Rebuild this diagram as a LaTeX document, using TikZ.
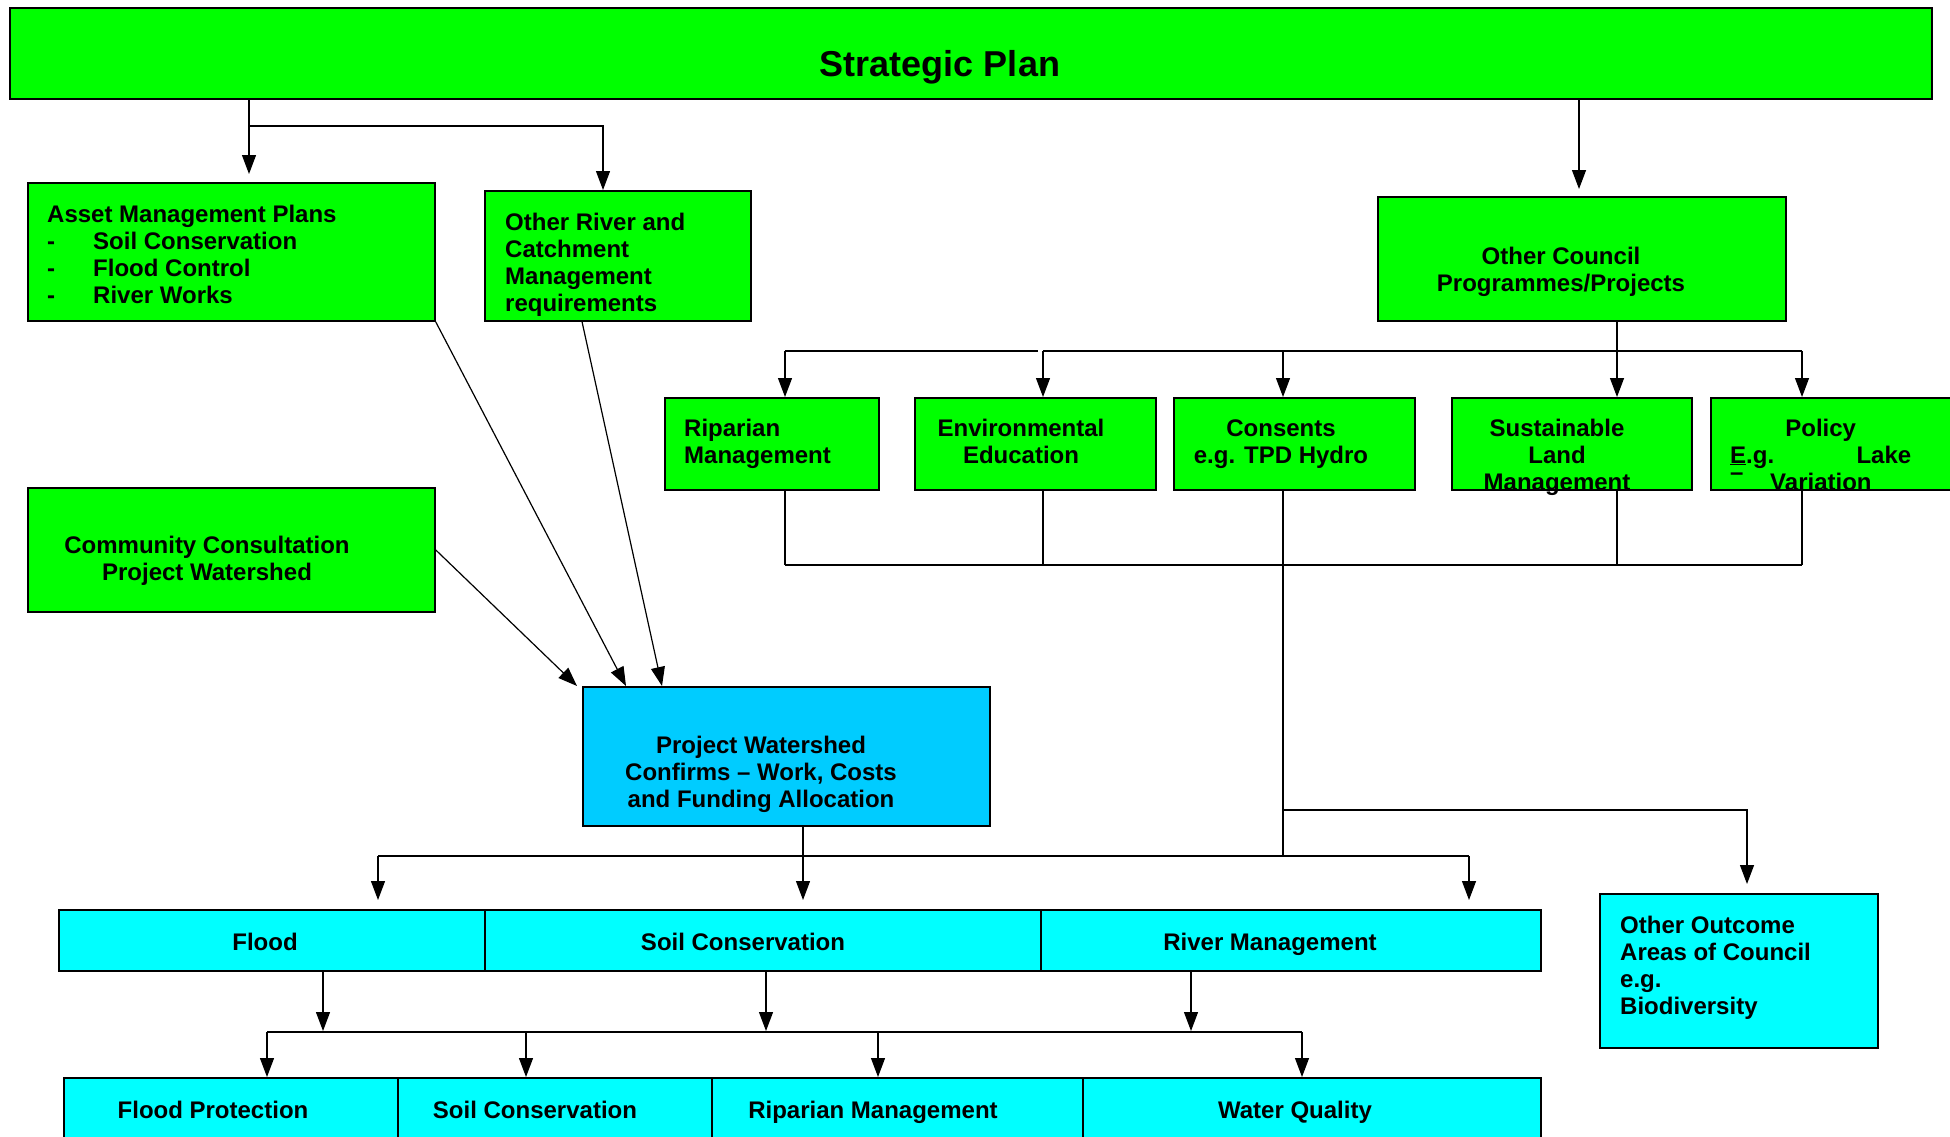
\documentclass[tikz,border=0pt]{standalone}
\usepackage{fontspec}
\setmainfont{Liberation Sans}
\usetikzlibrary{arrows.meta}
\definecolor{leafgreen}{HTML}{00FF00}
\definecolor{skyblue}{HTML}{00CCFF}
\definecolor{aqua}{HTML}{00FFFF}

\begin{document}
\begin{tikzpicture}[x=1pt, y=-1pt,
  box/.style={draw, line width=1.6pt, inner sep=0pt, anchor=north west},
  txt/.style={inner sep=0pt, font=\fontsize{24}{27}\selectfont\bfseries},
  arr/.style={line width=1.2pt, -{Triangle[length=19pt, width=14pt]}},
  bus/.style={line width=1.2pt}]
  \path[use as bounding box, fill=white] (0,0) rectangle (1950,1136);

  % boxes
  \node (plan) at (9,7)[box, fill=leafgreen, minimum width=1922pt, minimum height=91pt]{};
  \node (amp) at (27,182)[box, fill=leafgreen, minimum width=407pt, minimum height=138pt]{};
  \node (orc) at (484,190)[box, fill=leafgreen, minimum width=266pt, minimum height=130pt]{};
  \node (occ) at (1377,196)[box, fill=leafgreen, minimum width=408pt, minimum height=124pt]{};
  \node (rip) at (664,397)[box, fill=leafgreen, minimum width=214pt, minimum height=92pt]{};
  \node (env) at (914,397)[box, fill=leafgreen, minimum width=241pt, minimum height=92pt]{};
  \node (con) at (1173,397)[box, fill=leafgreen, minimum width=241pt, minimum height=92pt]{};
  \node (slm) at (1451,397)[box, fill=leafgreen, minimum width=240pt, minimum height=92pt]{};
  \node (pol) at (1710,397)[box, fill=leafgreen, minimum width=250pt, minimum height=92pt]{};
  \node (ccp) at (27,487)[box, fill=leafgreen, minimum width=407pt, minimum height=124pt]{};
  \node (pw) at (582,686)[box, fill=skyblue, minimum width=407pt, minimum height=139pt]{};
  \node (fl) at (58,909)[box, fill=aqua, minimum width=426pt, minimum height=61pt]{};
  \node (sc) at (484,909)[box, fill=aqua, minimum width=556pt, minimum height=61pt]{};
  \node (rm) at (1040,909)[box, fill=aqua, minimum width=500pt, minimum height=61pt]{};
  \node (ooa) at (1599,893)[box, fill=aqua, minimum width=278pt, minimum height=154pt]{};
  \node (fp) at (63,1077)[box, fill=aqua, minimum width=334pt, minimum height=80pt]{};
  \node (sc2) at (397,1077)[box, fill=aqua, minimum width=314pt, minimum height=80pt]{};
  \node (rip2) at (711,1077)[box, fill=aqua, minimum width=371pt, minimum height=80pt]{};
  \node (wq) at (1082,1077)[box, fill=aqua, minimum width=458pt, minimum height=80pt]{};

  % texts (base = baseline of the last line)
  \node (plan-t) at (940,76)[txt, anchor=base, font=\fontsize{36}{40}\selectfont\bfseries]{Strategic Plan};
  \node (amp-t) at (47,303)[txt, anchor=base west, align=left]{Asset Management Plans\\
    \makebox[46pt][l]{-}Soil Conservation\\ \makebox[46pt][l]{-}Flood Control\\
    \makebox[46pt][l]{-}River Works};
  \node (orc-t) at (505,311)[txt, anchor=base west, align=left]{Other River and\\Catchment\\Management\\requirements};
  \node (occ-t) at (1561,291)[txt, anchor=base, align=center]{Other Council\\Programmes/Projects};
  \node (rip-t) at (684,463)[txt, anchor=base west, align=left]{Riparian\\Management};
  \node (env-t) at (1021,463)[txt, anchor=base, align=center]{Environmental\\Education};
  \node (con-t) at (1281,463)[txt, anchor=base, align=center]{Consents\\e.g. TPD Hydro};
  \node (slm-t) at (1557,490)[txt, anchor=base, align=center]{Sustainable\\Land\\Management};
  \node (pol-t) at (1730,490)[txt, anchor=base west, align=left]{\makebox[181pt][c]{Policy}\\
    \makebox[181pt][s]{\underline{E}.g.\hfill Lake}\\
    \makebox[40pt][l]{\raisebox{10pt}{--}}Variation};
  \node (ccp-t) at (207,580)[txt, anchor=base, align=center]{Community Consultation\\Project Watershed};
  \node (pw-t) at (761,807)[txt, anchor=base, align=center]{Project Watershed\\Confirms -- Work, Costs\\and Funding Allocation};
  \node (fl-t) at (265,950)[txt, anchor=base]{Flood};
  \node (sc-t) at (743,950)[txt, anchor=base]{Soil Conservation};
  \node (rm-t) at (1270,950)[txt, anchor=base]{River Management};
  \node (ooa-t) at (1620,1014)[txt, anchor=base west, align=left]{Other Outcome\\Areas of Council\\e.g.\\Biodiversity};
  \node (fp-t) at (213,1118)[txt, anchor=base]{Flood Protection};
  \node (sc2-t) at (535,1118)[txt, anchor=base]{Soil Conservation};
  \node (rip2-t) at (873,1118)[txt, anchor=base]{Riparian Management};
  \node (wq-t) at (1295,1118)[txt, anchor=base]{Water Quality};

  % where the arrows land
  \coordinate (split) at (249,126);
  \coordinate (amp-in) at (249,174);
  \coordinate (orc-in) at (603,190);
  \coordinate (occ-in) at (1579,189);
  \coordinate (bus-t) at (0,351);
  \coordinate (bus-b) at (0,565);
  \coordinate (bus-o) at (0,810);
  \coordinate (bus-f) at (0,856);
  \coordinate (bus-l) at (0,1032);
  \coordinate (rip-in) at (785,397);
  \coordinate (env-in) at (1043,397);
  \coordinate (con-in) at (1283,397);
  \coordinate (slm-in) at (1617,397);
  \coordinate (pol-in) at (1802,397);
  \coordinate (ooa-in) at (1747,884);
  \coordinate (fl-in) at (378,900);
  \coordinate (sc-in) at (803,900);
  \coordinate (rm-in) at (1469,900);
  \coordinate (fl-out) at (323,1031);
  \coordinate (sc-out) at (766,1031);
  \coordinate (rm-out) at (1191,1031);
  \coordinate (fp-in) at (267,1077);
  \coordinate (sc2-in) at (526,1077);
  \coordinate (rip2-in) at (878,1077);
  \coordinate (wq-in) at (1302,1077);

  % connectors
  \draw[arr] (plan.south -| amp-in) -- (amp-in);
  \draw[arr] (split) -| (orc-in);
  \draw[arr] (plan.south -| occ-in) -- (occ-in);
  \draw[bus] (rip-in |- bus-t) -- ([xshift=-5pt]env-in |- bus-t);
  \draw[bus] (env-in |- bus-t) -- (pol-in |- bus-t);
  \foreach \n in {rip,env,con,pol}
    \draw[arr] (\n-in |- bus-t) -- (\n-in);
  \draw[arr] (occ.south -| slm-in) -- (slm-in);
  \foreach \n in {rip,env,slm,pol}
    \draw[bus] (\n.south -| \n-in) -- (\n-in |- bus-b);
  \draw[bus] (rip-in |- bus-b) -- (pol-in |- bus-b);
  \draw[bus] (con.south -| con-in) -- (con-in |- bus-f);
  \draw[arr] (con-in |- bus-o) -| (ooa-in);

  \draw[arr] (amp.south east) -- ([xshift=44pt]pw.north west);
  \draw[arr] ([xshift=98pt]orc.south west) -- ([xshift=80pt]pw.north west);
  \draw[arr] (ccp.east) -- ([xshift=-5pt]pw.north west);

  \draw[bus] (fl-in |- bus-f) -- (rm-in |- bus-f);
  \draw[arr] (pw.south -| sc-in) -- (sc-in);
  \draw[arr] (fl-in |- bus-f) -- (fl-in);
  \draw[arr] (rm-in |- bus-f) -- (rm-in);

  \foreach \n in {fl,sc,rm}
    \draw[arr] (\n.south -| \n-out) -- (\n-out);
  \draw[bus] (fp-in |- bus-l) -- (wq-in |- bus-l);
  \foreach \n in {fp,sc2,rip2,wq}
    \draw[arr] (\n-in |- bus-l) -- (\n-in);
\end{tikzpicture}
\end{document}
